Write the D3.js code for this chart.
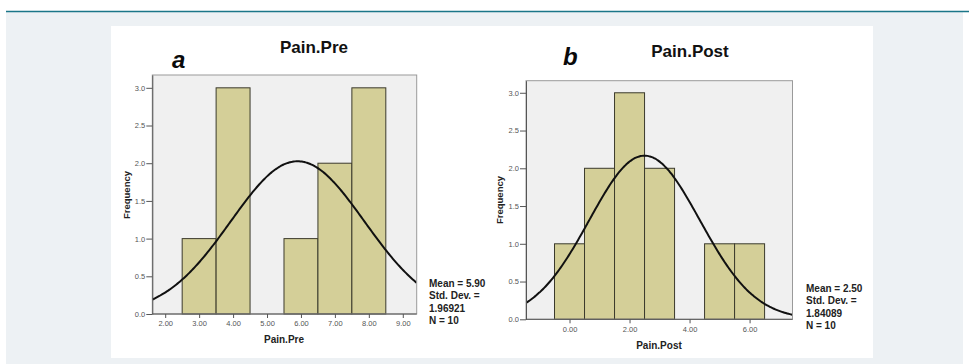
<!DOCTYPE html>
<html>
<head>
<meta charset="utf-8">
<script src="https://cdn.jsdelivr.net/npm/d3@7"></script>
<style>
  body { margin: 0; background: #fff; }
  svg { display: block; }
</style>
</head>
<body>
<div class="canvas"></div>
<script>
// data
const preBins = [3, 4, 5, 6, 7, 8];
const preFreq = [1, 3, 0, 1, 2, 3];
const postBins = [0, 1, 2, 3, 4, 5, 6];
const postFreq = [1, 2, 3, 2, 0, 1, 1];

const preStats = { mean: 5.90, sd: 1.96921, n: 10 };
const postStats = { mean: 2.50, sd: 1.84089, n: 10 };

const preTicks = [2, 3, 4, 5, 6, 7, 8, 9];
const postTicks = [0, 2, 4, 6];
const yTicks = [0, 0.5, 1, 1.5, 2, 2.5, 3];

const dims = { width: 969, height: 364 };
const font = "'Liberation Sans', Arial, sans-serif";
const narrow = "'Liberation Sans Narrow', 'Arial Narrow', 'Liberation Sans', sans-serif";

const svg = d3
  .select(".canvas")
  .append("svg")
  .attr("width", dims.width)
  .attr("height", dims.height);

// page background
svg.append("rect").attr("x", 6).attr("y", 11).attr("width", 957).attr("height", 353).attr("fill", "#edf1f4");
svg.append("line").attr("x1", 6).attr("x2", 969).attr("y1", 11.5).attr("y2", 11.5)
  .attr("stroke", "#1b7688").attr("stroke-width", 1.5);
svg.append("rect").attr("x", 111).attr("y", 26).attr("width", 762).attr("height", 332).attr("fill", "#fff");

const panels = [
  {
    id: "pre", letter: "a", title: "Pain.Pre", xTitle: "Pain.Pre",
    bins: preBins, freq: preFreq, stats: preStats, ticks: preTicks,
    frame: { left: 152.3, right: 416.7, top: 75, bottom: 314 },
    xDomain: [1.62, 9.41], yTop: 3.17,
    titleAt: [314, 53], letterAt: [172, 68], freqAt: [127, 195],
    xTitleAt: [284, 343], legendAt: [429, 287]
  },
  {
    id: "post", letter: "b", title: "Pain.Post", xTitle: "Pain.Post",
    bins: postBins, freq: postFreq, stats: postStats, ticks: postTicks,
    frame: { left: 526, right: 792.5, top: 80.7, bottom: 319.3 },
    xDomain: [-1.45, 7.43], yTop: 3.16,
    titleAt: [690, 57], letterAt: [563, 65], freqAt: [500, 200],
    xTitleAt: [659, 349], legendAt: [806, 292]
  }
];

panels.forEach((p) => {
  const f = p.frame;
  const x = d3.scaleLinear().domain(p.xDomain).range([f.left, f.right]);
  const y = d3.scaleLinear().domain([0, p.yTop]).range([f.bottom, f.top]);
  const g = svg.append("g");

  // plot area
  g.append("rect")
    .attr("x", f.left).attr("y", f.top)
    .attr("width", f.right - f.left).attr("height", f.bottom - f.top)
    .attr("fill", "#f0f0f0");

  g.append("clipPath").attr("id", "clip-" + p.id)
    .append("rect")
    .attr("x", f.left).attr("y", f.top)
    .attr("width", f.right - f.left).attr("height", f.bottom - f.top);

  // bars
  const bars = p.bins.map((b, i) => ({ bin: b, freq: p.freq[i] }));
  g.selectAll("rect.bar")
    .data(bars.filter((d) => d.freq > 0))
    .enter()
    .append("rect")
    .attr("class", "bar")
    .attr("x", (d) => x(d.bin - 0.5))
    .attr("y", (d) => y(d.freq))
    .attr("width", (d) => x(d.bin + 0.5) - x(d.bin - 0.5))
    .attr("height", (d) => y(0) - y(d.freq))
    .attr("fill", "#d4cf98")
    .attr("stroke", "#3b3a2c")
    .attr("stroke-width", 1);

  // normal curve
  const s = p.stats;
  const pdf = (v) => (s.n / (s.sd * Math.sqrt(2 * Math.PI))) * Math.exp(-0.5 * Math.pow((v - s.mean) / s.sd, 2));
  const pts = d3.range(0, 201).map((i) => p.xDomain[0] + (i / 200) * (p.xDomain[1] - p.xDomain[0]));
  const line = d3.line().x((v) => x(v)).y((v) => y(pdf(v))).curve(d3.curveBasis);
  g.append("path")
    .datum(pts)
    .attr("d", line)
    .attr("clip-path", "url(#clip-" + p.id + ")")
    .attr("fill", "none")
    .attr("stroke", "#111")
    .attr("stroke-width", 2);

  // frame
  g.append("rect")
    .attr("x", f.left).attr("y", f.top)
    .attr("width", f.right - f.left).attr("height", f.bottom - f.top)
    .attr("fill", "none")
    .attr("stroke", "#9a9a9a");

  // axes
  const xAxis = d3.axisBottom(x).tickValues(p.ticks).tickFormat(d3.format(".2f")).tickSize(4).tickSizeOuter(0);
  const xg = g.append("g").attr("transform", `translate(0,${f.bottom})`).call(xAxis);
  const yAxis = d3.axisLeft(y).tickValues(yTicks).tickFormat(d3.format(".1f")).tickSize(6).tickSizeOuter(0);
  const yg = g.append("g").attr("transform", `translate(${f.left},0)`).call(yAxis);
  [xg, yg].forEach((a) => {
    a.select(".domain").attr("stroke", "#555");
    a.selectAll(".tick line").attr("stroke", "#555");
    a.selectAll("text").attr("fill", "#555").attr("font-size", 7.5).attr("font-family", font);
  });
  xg.select(".domain").remove();
  xg.append("line").attr("x1", f.left).attr("x2", f.right).attr("stroke", "#555");
  yg.selectAll("text").attr("x", -7);
  xg.selectAll("text").attr("y", 7);

  // titles
  svg.append("text")
    .attr("x", p.titleAt[0]).attr("y", p.titleAt[1])
    .attr("text-anchor", "middle")
    .attr("font-family", font).attr("font-weight", "bold").attr("font-size", 17)
    .attr("fill", "#111")
    .text(p.title);

  svg.append("text")
    .attr("x", p.letterAt[0]).attr("y", p.letterAt[1])
    .attr("font-family", narrow).attr("font-weight", "bold").attr("font-style", "italic")
    .attr("font-size", 24).attr("fill", "#0a0a0a")
    .text(p.letter);

  svg.append("text")
    .attr("transform", `translate(${p.freqAt[0]},${p.freqAt[1]}) rotate(-90)`)
    .attr("text-anchor", "middle").attr("dominant-baseline", "middle")
    .attr("font-family", font).attr("font-weight", "bold").attr("font-size", 9.5)
    .attr("fill", "#222")
    .text("Frequency");

  svg.append("text")
    .attr("x", p.xTitleAt[0]).attr("y", p.xTitleAt[1])
    .attr("text-anchor", "middle")
    .attr("font-family", font).attr("font-weight", "bold").attr("font-size", 10)
    .attr("fill", "#222")
    .text(p.xTitle);

  // stats legend
  const legendLines = [
    "Mean = " + d3.format(".2f")(s.mean),
    "Std. Dev. =",
    d3.format(".5f")(s.sd),
    "N = " + s.n
  ];
  svg.append("g")
    .selectAll("text")
    .data(legendLines)
    .enter()
    .append("text")
    .attr("x", p.legendAt[0])
    .attr("y", (d, i) => p.legendAt[1] + i * 12.3)
    .attr("font-family", font).attr("font-weight", "bold").attr("font-size", 10)
    .attr("fill", "#222")
    .text((d) => d);
});
</script>
</body>
</html>
